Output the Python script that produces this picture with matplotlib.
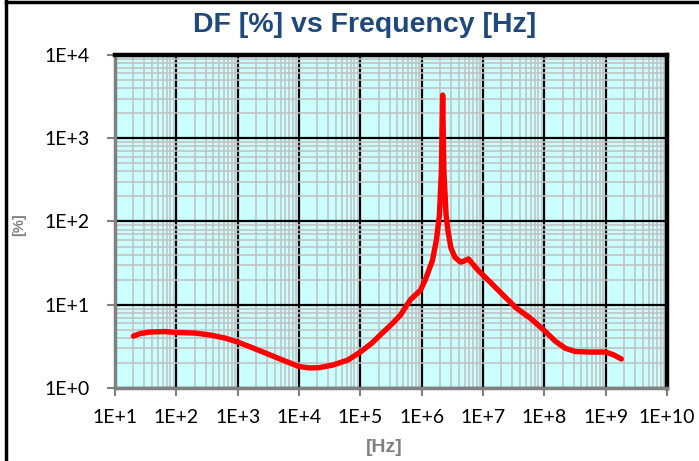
import numpy as np
import matplotlib.pyplot as plt
from matplotlib.lines import Line2D
from matplotlib.ticker import FixedLocator, FuncFormatter, LogLocator, NullFormatter

# DF [%], frequency in Hz
freq_hz = [20, 25.6, 37, 65, 100, 200, 355, 620, 1000, 1780, 3100, 5900,
           10000, 15000, 22000, 36000, 63000, 100000, 155000, 230000,
           330000, 450000, 650000, 960000, 1.15e6, 1.5e6, 1.74e6, 1.95e6,
           2.1e6, 2.2e6, 2.3e6, 2.5e6, 2.7e6, 3.0e6, 3.5e6, 4.3e6, 4.9e6,
           5.8e6, 6.6e6, 8.3e6, 1.3e7, 1.9e7, 3.5e7, 5.9e7, 9.7e7, 1.5e8,
           2.2e8, 3.2e8, 5.6e8, 1e9, 1.35e9, 1.8e9]
df_pct = [4.2, 4.5, 4.7, 4.76, 4.64, 4.57, 4.33, 3.98, 3.57, 3.02, 2.56, 2.11,
          1.81, 1.74, 1.76, 1.89, 2.17, 2.7, 3.47, 4.6,
          5.9, 7.5, 11.4, 15, 20, 34, 60, 120,
          415, 3300, 415, 120, 75, 48, 37, 32.5, 33.5,
          35.5, 31.6, 26, 18.8, 14.2, 9.1, 6.9, 5.0, 3.66,
          3.0, 2.74, 2.7, 2.7, 2.5, 2.23]

x_decades = list(range(1, 11))
y_decades = list(range(0, 5))

fig = plt.figure(figsize=(6.99, 4.61), dpi=100)
ax = fig.add_axes([0.1645, 0.1584, 0.7897, 0.7223])
ax.set_facecolor('#CCFFFF')

ax.plot(freq_hz, df_pct, color='#FF0000', lw=3.9, solid_capstyle='round',
        solid_joinstyle='round', zorder=5)

ax.set_xscale('log')
ax.set_yscale('log')
ax.set_xlim(10 ** x_decades[0], 10 ** x_decades[-1])
ax.set_ylim(10 ** y_decades[0], 10 ** y_decades[-1])

ax.xaxis.set_major_locator(FixedLocator([10.0 ** d for d in x_decades]))
ax.yaxis.set_major_locator(FixedLocator([10.0 ** d for d in y_decades]))
ax.xaxis.set_minor_locator(LogLocator(base=10, subs=np.arange(2, 10), numticks=20))
ax.yaxis.set_minor_locator(LogLocator(base=10, subs=np.arange(2, 10), numticks=20))
ax.xaxis.set_minor_formatter(NullFormatter())
ax.yaxis.set_minor_formatter(NullFormatter())
fmt = FuncFormatter(lambda v, p: '1E+%d' % round(np.log10(v)))
ax.xaxis.set_major_formatter(fmt)
ax.yaxis.set_major_formatter(fmt)

ax.grid(which='minor', color='#C0C0C0', lw=1.1, zorder=1)
ax.grid(which='major', color='black', lw=1.6, zorder=2)
ax.set_axisbelow(True)

ax.tick_params(which='major', direction='out', length=6, width=1.5,
               color='#808080', labelsize=14)
ax.tick_params(axis='x', pad=9)
ax.tick_params(axis='y', pad=12)
ax.tick_params(which='minor', length=0)
for lab in ax.get_xticklabels() + ax.get_yticklabels():
    lab.set_family('Lato')

for side in ['left', 'bottom']:
    ax.spines[side].set_color('#808080')
    ax.spines[side].set_linewidth(2.5)
for side in ['top', 'right']:
    ax.spines[side].set_color('black')
    ax.spines[side].set_linewidth(3.2)

fig.text(0.521, 0.945, 'DF [%] vs Frequency [Hz]', fontsize=20.5,
         fontweight='bold', color='#1F497D', family='Liberation Sans',
         ha='center', va='center')
fig.text(0.549, 0.030, '[Hz]', fontsize=14, fontweight='bold', color='#808080',
         family='Liberation Sans', ha='center', va='center')
fig.text(0.027, 0.512, '[%]', rotation=90, fontsize=10.5, fontweight='bold',
         color='#808080', family='Liberation Sans', ha='center', va='center')

# chart frame edges visible in the reference
fig.add_artist(Line2D([0.0085, 0.0085], [0, 1], color='black', lw=2.5))
fig.add_artist(Line2D([0.0085, 1], [0.9965, 0.9965], color='black', lw=2.5))

fig.savefig('out.png', dpi=100)
